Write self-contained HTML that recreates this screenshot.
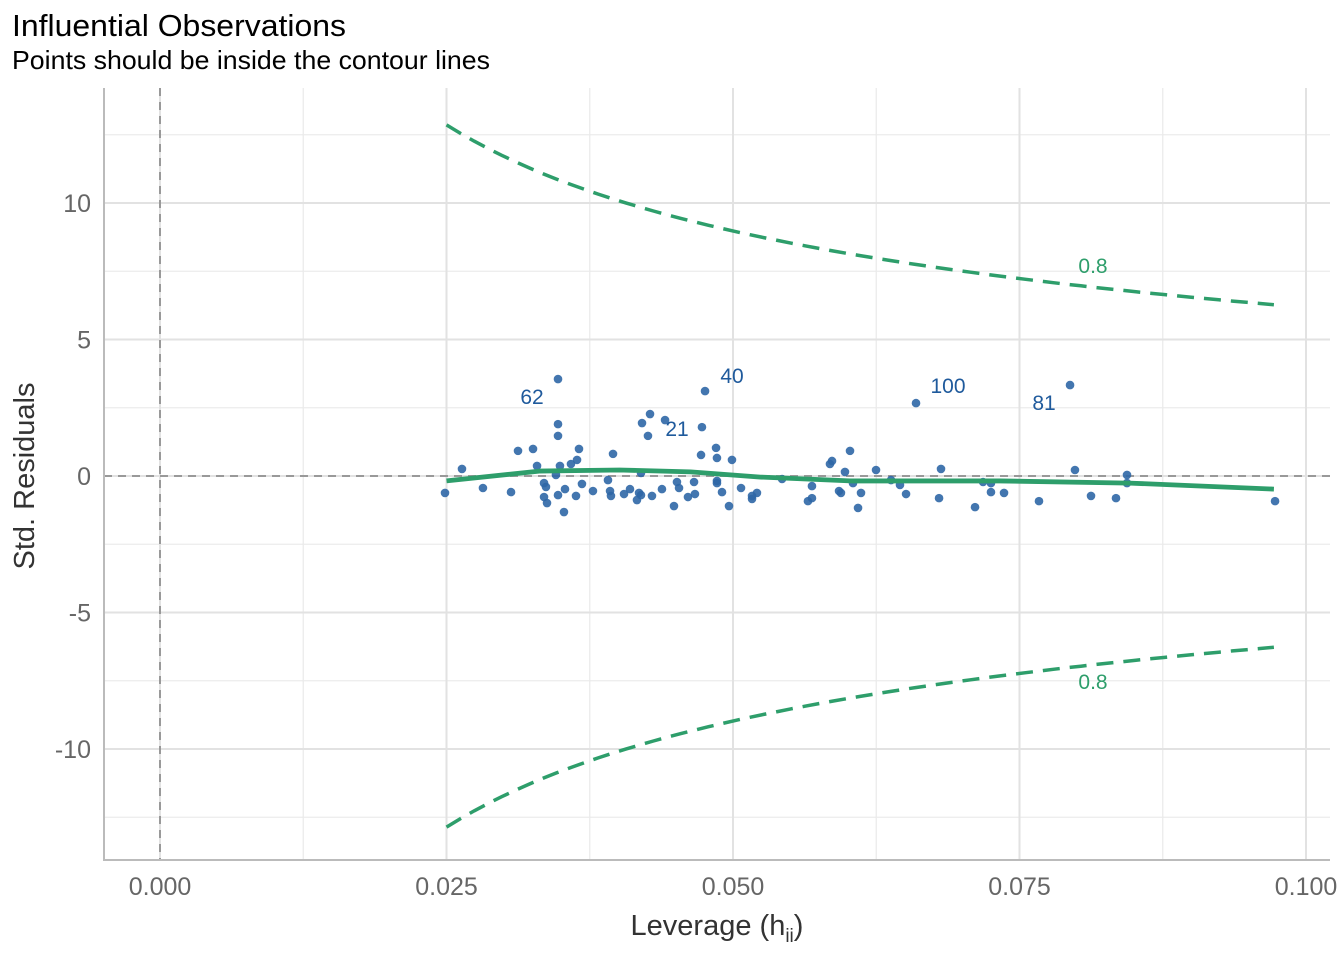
<!DOCTYPE html>
<html><head><meta charset="utf-8"><style>
body{margin:0;background:#fff;}
svg text{font-family:"Liberation Sans",Arial,sans-serif;}
</style></head><body>
<svg id="chart" width="1344" height="960" viewBox="0 0 1344 960" xmlns="http://www.w3.org/2000/svg">
<text x="12" y="36" font-size="31" fill="#000" textLength="334" lengthAdjust="spacingAndGlyphs">Influential Observations</text>
<text x="12" y="69" font-size="26" fill="#000" textLength="478" lengthAdjust="spacingAndGlyphs">Points should be inside the contour lines</text>
<g id="grid"></g>
<g id="refs"></g>
<g id="contours"></g>
<g id="points"></g>
<g id="smooth"></g>
<g id="labels"></g>
<g id="axes"></g>
<text x="717" y="935" font-size="29" fill="#333" text-anchor="middle">Leverage (h<tspan font-size="19" dy="7">ii</tspan><tspan dy="-7">)</tspan></text>
<text transform="translate(34,476) rotate(-90)" font-size="29" fill="#333" text-anchor="middle">Std. Residuals</text>
</svg>
<script>
const leverage=[0.02487,0.02635,0.02818,0.03063,0.03124,0.03255,0.03290,0.03351,0.03368,0.03351,0.03377,0.03473,0.03473,0.03473,0.03490,0.03455,0.03473,0.03534,0.03525,0.03586,0.03639,0.03656,0.03630,0.03682,0.03778,0.03953,0.03909,0.03927,0.03935,0.04049,0.04101,0.04162,0.04180,0.04197,0.04197,0.04206,0.04276,0.04258,0.04293,0.04380,0.04407,0.04485,0.04511,0.04529,0.04607,0.04660,0.04668,0.04721,0.04729,0.04756,0.04852,0.04860,0.04860,0.04860,0.04904,0.04965,0.04991,0.05070,0.05166,0.05209,0.05166,0.05428,0.05654,0.05689,0.05689,0.05846,0.05864,0.06021,0.05977,0.05925,0.05942,0.06047,0.06091,0.06117,0.06248,0.06379,0.06457,0.06510,0.06597,0.06815,0.06798,0.07112,0.07182,0.07251,0.07251,0.07365,0.07670,0.07941,0.07984,0.08124,0.08342,0.08438,0.08438,0.09730];
const stdResid=[-0.62,0.26,-0.44,-0.59,0.92,0.99,0.37,-0.26,-0.40,-0.77,-0.99,3.55,1.90,1.47,0.37,0.04,-0.70,-0.48,-1.32,0.44,0.59,0.99,-0.73,-0.29,-0.55,0.81,-0.15,-0.55,-0.73,-0.66,-0.48,-0.88,-0.62,-0.70,0.11,1.94,2.27,1.47,-0.73,-0.48,2.05,-1.10,-0.22,-0.44,-0.77,-0.22,-0.66,0.77,1.79,3.11,1.03,0.66,-0.18,-0.26,-0.59,-1.10,0.59,-0.44,-0.84,-0.62,-0.73,-0.11,-0.92,-0.81,-0.37,0.44,0.55,0.92,0.15,-0.55,-0.62,-0.26,-1.17,-0.62,0.22,-0.15,-0.33,-0.66,2.67,0.26,-0.81,-1.14,-0.22,-0.26,-0.59,-0.62,-0.92,3.33,0.22,-0.73,-0.81,0.04,-0.26,-0.92];
const labelTexts=["62","21","40","100","81"];
const labelIdx=[11,40,49,78,87];
const labelDx=[-26,12,27,32,-26];
const labelDy=[24,15,-9,-11,24];
const smoothLev=[0.0250,0.0331,0.0401,0.0463,0.0524,0.0602,0.0733,0.0846,0.0972];
const smoothRes=[-0.18,0.18,0.22,0.15,-0.04,-0.18,-0.18,-0.26,-0.48];
const cookLevel=0.8, nParams=5.3, hMin=0.025, hMax=0.0972;
const xTicks=[0,0.025,0.05,0.075,0.1];
const xTickLabels=["0.000","0.025","0.050","0.075","0.100"];
const yTicks=[-10,-5,0,5,10];
const yTickLabels=["-10","-5","0","5","10"];
const xMinor=[0.0125,0.0375,0.0625,0.0875];
const yMinor=[-12.5,-7.5,-2.5,2.5,7.5,12.5];

const L=104,R=1330,T=88,B=860;
const xs=v=>160+v*11460;
const ys=v=>476-v*27.3;
const NS="http://www.w3.org/2000/svg";
function mk(tag,parent,attrs){const e=document.createElementNS(NS,tag);for(const k in attrs)e.setAttribute(k,attrs[k]);parent.appendChild(e);return e;}
const grid=document.getElementById('grid');
xMinor.forEach(v=>{const e=mk('line',grid,{x1:xs(v),x2:xs(v),y1:T,y2:B,stroke:'#ebebeb','stroke-width':1.3});

});
yMinor.forEach(v=>{const e=mk('line',grid,{x1:L,x2:R,y1:ys(v),y2:ys(v),stroke:'#ebebeb','stroke-width':1.3});

});
xTicks.forEach(v=>{const e=mk('line',grid,{x1:xs(v),x2:xs(v),y1:T,y2:B,stroke:'#e2e2e2','stroke-width':2});

});
yTicks.forEach(v=>{const e=mk('line',grid,{x1:L,x2:R,y1:ys(v),y2:ys(v),stroke:'#e2e2e2','stroke-width':2});

});
const refs=document.getElementById('refs');
let r1=mk('line',refs,{x1:xs(0),x2:xs(0),y1:T,y2:B,stroke:'#999','stroke-width':2,'stroke-dasharray':'8,6'});


let r2=mk('line',refs,{x1:L,x2:R,y1:ys(0),y2:ys(0),stroke:'#999','stroke-width':2,'stroke-dasharray':'8,6'});


const cont=document.getElementById('contours');
[1,-1].forEach(sgn=>{let d='';for(let i=0;i<=60;i++){const h=hMin+(hMax-hMin)*i/60;const r=sgn*Math.sqrt(cookLevel*nParams*(1-h)/h);d+=(i?'L':'M')+xs(h).toFixed(1)+','+ys(r).toFixed(1);}
const p=mk('path',cont,{d:d,fill:'none',stroke:'#2e9e6b','stroke-width':3.5,'stroke-dasharray':'17,10'});


const t=mk('text',cont,{x:1093,y:sgn>0?273:689,'font-size':21,fill:'#2e9e6b','text-anchor':'middle'});t.textContent=String(cookLevel);

});
const pts=document.getElementById('points');
leverage.forEach((h,i)=>{const c=mk('circle',pts,{cx:xs(h),cy:ys(stdResid[i]),r:4.3,fill:'#2f67a6','fill-opacity':0.9});

});
const sm=document.getElementById('smooth');
let sd='';smoothLev.forEach((h,i)=>{sd+=(i?'L':'M')+xs(h)+','+ys(smoothRes[i]);});
const sp=mk('path',sm,{d:sd,fill:'none',stroke:'#2e9e6b','stroke-width':4.8,'stroke-linejoin':'round'});


const lab=document.getElementById('labels');
labelTexts.forEach((s,i)=>{const k=labelIdx[i];const t=mk('text',lab,{x:xs(leverage[k])+labelDx[i],y:ys(stdResid[k])+labelDy[i]+1,'font-size':21,fill:'#1f5a9c','text-anchor':'middle'});t.textContent=s;

});
const ax=document.getElementById('axes');
let a1=mk('line',ax,{x1:L,x2:L,y1:T,y2:B+1,stroke:'#bbb','stroke-width':2});


let a2=mk('line',ax,{x1:L-1,x2:R,y1:B,y2:B,stroke:'#bbb','stroke-width':2});


xTicks.forEach((v,i)=>{const t=mk('text',ax,{x:xs(v),y:895,'font-size':25,fill:'#666','text-anchor':'middle'});t.textContent=xTickLabels[i];

});
yTicks.forEach((v,i)=>{const t=mk('text',ax,{x:91,y:ys(v)+9,'font-size':25,fill:'#666','text-anchor':'end'});t.textContent=yTickLabels[i];

});
</script>
</body></html>
